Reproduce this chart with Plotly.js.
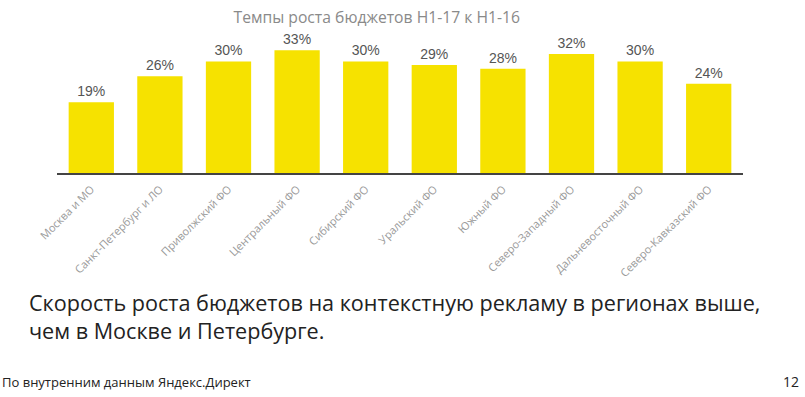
<!DOCTYPE html>
<html><head><meta charset="utf-8">
<script src="https://cdn.plot.ly/plotly-3.0.1.min.js"></script>
<style>html,body{margin:0;padding:0;background:#fff}#c{width:805px;height:397px}</style>
</head><body><div id="c"></div>
<script>
const regions = ["Москва и МО","Санкт-Петербург и ЛО","Приволжский ФО","Центральный ФО","Сибирский ФО","Уральский ФО","Южный ФО","Северо-Западный ФО","Дальневосточный ФО","Северо-Кавказский ФО"];
const growth = [19,26,30,33,30,29,28,32,30,24];
const chartTitle = "Темпы роста бюджетов H1-17 к H1-16";
const headline = "Скорость роста бюджетов на контекстную рекламу в регионах выше,<br>чем в Москве и Петербурге.";
const footer = "По внутренним данным Яндекс.Директ";
const pageNo = "12";

const font = "'Open Sans', Roboto, sans-serif";
Plotly.newPlot('c', [{
  type:'bar', x:regions, y:growth,
  marker:{color:'#F6E200'},
  text:growth.map(v=>v+'%'), textposition:'outside', cliponaxis:false,
  textfont:{family:"'Liberation Sans', Arial, sans-serif",size:14,color:'#555'},
  hoverinfo:'none'
}], {
  width:805, height:397,
  margin:{l:57,r:62,t:40,b:224},
  paper_bgcolor:'#fff', plot_bgcolor:'#fff',
  bargap:0.34,
  showlegend:false,
  title:{text:chartTitle, x:0.468, xanchor:'center', y:0.955, yanchor:'middle',
         font:{family:font,size:15.7,color:'#8a8a8a'}},
  xaxis:{showline:true, linecolor:'#444', linewidth:1.5, ticks:'outside', tickcolor:'rgba(0,0,0,0)', ticklen:4, tickangle:-45,
         tickfont:{family:font,size:11,color:'#9a9a9a'}, showgrid:false, zeroline:false, fixedrange:true},
  yaxis:{range:[0,35.75], visible:false, showgrid:false, zeroline:false, fixedrange:true},
  annotations:[
    {text:headline, xref:'paper', yref:'paper', x:-0.044, y:-1.08, xanchor:'left', yanchor:'middle',
     align:'left', showarrow:false, font:{family:font,size:21.6,color:'#222'}},
    {text:footer, xref:'paper', yref:'paper', x:-0.083, y:-1.57, xanchor:'left', yanchor:'middle',
     showarrow:false, font:{family:font,size:13,color:'#222'}},
    {text:pageNo, xref:'paper', yref:'paper', x:1.085, y:-1.57, xanchor:'right', yanchor:'middle',
     showarrow:false, font:{family:font,size:14,color:'#222'}}
  ]
}, {staticPlot:true});
</script></body></html>
